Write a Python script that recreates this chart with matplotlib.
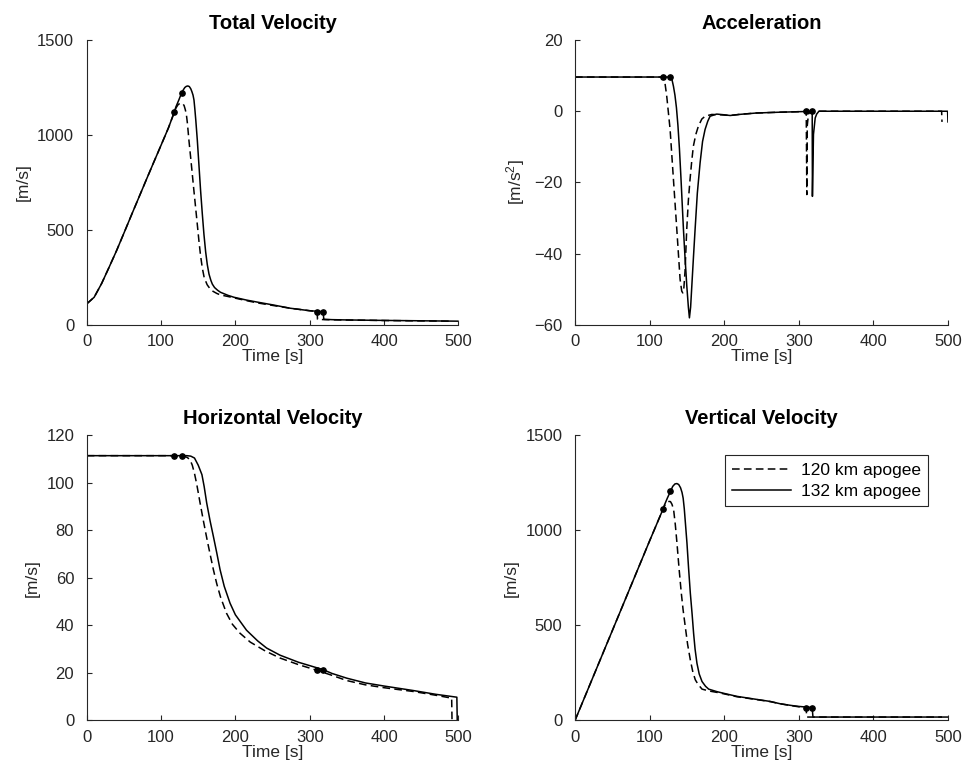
import matplotlib
matplotlib.use("Agg")
import matplotlib.pyplot as plt

plt.rcParams["font.family"] = ["Liberation Sans", "DejaVu Sans"]
plt.rcParams["mathtext.fontset"] = "custom"
plt.rcParams["mathtext.rm"] = "Liberation Sans"
plt.rcParams["mathtext.it"] = "Liberation Sans:italic"

AX_COLOR = (0.15, 0.15, 0.15)

# ---- Total velocity [m/s] ----
tot_t_120 = [0, 10, 20, 30, 40, 50, 60, 70, 80, 90, 100, 110, 118, 120, 123, 126, 129, 131,
             132.5, 134, 135.5, 137.5, 140, 142, 144, 146.5, 149, 151, 153, 155.5, 158, 162,
             166, 170, 175, 180, 190, 200, 215, 230, 250, 274, 290, 310, 310.5, 320, 350, 400,
             450, 492]
tot_v_120 = [111, 146, 218, 303, 390, 483, 577, 670, 763, 855, 946, 1038, 1122, 1142, 1160, 1168,
             1166, 1155, 1135, 1110, 1060, 972, 875, 795, 715, 618, 520, 441, 370, 300, 250, 212,
             190, 177, 166, 158, 150, 141, 128, 116, 103, 88, 80, 70, 30, 28, 26, 23.5, 21.5, 20]
tot_t_132 = [0, 10, 20, 30, 40, 50, 60, 70, 80, 90, 100, 110, 118, 120, 124, 126, 128, 130,
             132, 134, 136, 138, 140, 141.5, 143, 144.3, 145.5, 146.8, 148.8, 151, 153.2, 155.5,
             157.7, 160, 162.2, 164.5, 167, 169, 172, 176, 180, 190, 198, 215, 230, 250, 274,
             290, 300, 318, 319, 330, 350, 400, 450, 500]
tot_v_132 = [111, 146, 218, 303, 390, 483, 577, 670, 763, 855, 946, 1038, 1122, 1148, 1185, 1205,
             1222, 1238, 1250, 1256, 1258, 1255, 1243, 1228, 1210, 1184, 1135, 1075, 972, 840,
             707, 585, 477, 385, 318, 268, 235, 215, 197, 183, 172, 156, 146, 131, 120, 106, 88,
             80, 75, 70, 30, 28, 26.5, 24, 22, 20]

# ---- Acceleration [m/s^2] ----
acc_t_120 = [0, 118, 120, 123, 127.5, 132, 136.5, 140.9, 143.1, 144.5, 146, 147.5, 149.8, 152,
             154.2, 156.5, 158.7, 162, 165.4, 170, 174.4, 183.4, 195, 208, 220, 243, 270, 305,
             310, 310.8, 311.4, 313, 316, 400, 491.5, 492]
acc_a_120 = [9.6, 9.6, 8.9, 4.2, -5.1, -19.2, -33.2, -47.2, -50.5, -51, -49.5, -45, -33.2, -25,
             -19.2, -14, -9.8, -6.5, -4.2, -2.2, -1.4, -0.9, -1.0, -1.2, -0.9, -0.5, -0.3, -0.1,
             0, -23.4, -4, -0.8, 0, 0, 0, -3]
acc_t_132 = [0, 128, 130, 132, 134, 136, 138, 140, 142, 143.5, 145.4, 147.5, 149.9, 152, 153.4,
             155, 156.6, 158.8, 161, 164, 167.7, 171, 174.4, 178, 181.1, 190, 200, 208, 220, 243,
             270, 305, 318, 318.3, 319.7, 322, 324, 327, 400, 499.5, 500]
acc_a_132 = [9.6, 9.6, 8.9, 7.0, 4.5, 1.0, -4.0, -10.5, -18.5, -25, -33.2, -41, -49.1, -55, -58,
             -55, -49.1, -41, -33.2, -23, -14.5, -8.5, -5.1, -2.8, -1.4, -0.8, -1.0, -1.2, -0.9,
             -0.5, -0.3, -0.1, 0, -23.9, -6.5, -1.9, -0.8, 0, 0, 0, -3]

# ---- Horizontal velocity [m/s] ----
hor_t_120 = [0, 118, 125, 130, 135, 139, 142, 145, 148, 150, 152.5, 157, 162, 166, 170.4, 175,
             180, 188, 196, 206, 220, 240, 260, 285, 310, 330, 350, 375, 400, 439.5, 470, 491,
             491.5]
hor_v_120 = [111.5, 111.5, 111.4, 111.3, 110.8, 109.8, 107.5, 104, 99.5, 96, 91.6, 84, 76, 70,
             63.5, 57.5, 52, 45.2, 40.5, 36.8, 33, 29.3, 26.3, 23.5, 21.1, 19, 16.8, 15, 13.8,
             12.2, 10.6, 9.4, 0]
hor_t_132 = [0, 128, 135, 140, 145, 150, 155, 158, 161.4, 166, 170.4, 175, 179.4, 185, 192.8,
             200, 215, 230, 242, 260, 285, 318, 330, 350, 375, 400, 439.5, 470, 498, 498.5]
hor_v_132 = [111.5, 111.5, 111.5, 111.3, 110.5, 107.5, 103.5, 98.5, 91.6, 84, 77.5, 70.5, 63.5,
             56.5, 49.4, 44.5, 38, 33.5, 30.5, 27.5, 24.5, 21.4, 19.8, 17.8, 15.8, 14.5, 12.6,
             11, 9.8, 0]

# ---- Vertical velocity [m/s] ----
ver_t_120 = [0, 20, 40, 60, 80, 100, 118, 120, 123, 126, 128, 130, 132.2, 134.5, 136.7, 139.5,
             142.5, 145, 147.8, 151, 154.6, 158, 161.3, 165, 170.3, 180, 190, 200, 217, 240,
             262, 275, 290, 310, 310.5, 350, 400, 450, 492]
ver_v_120 = [0, 189, 378, 567, 756, 945, 1112, 1130, 1147, 1153, 1152, 1138, 1110, 1030, 934,
             800, 671, 580, 495, 400, 319, 255, 214, 190, 165, 155, 148, 140, 125, 112, 99, 88,
             78, 66, 18, 18, 18, 18, 18]
ver_t_132 = [0, 20, 40, 60, 80, 100, 118, 120, 124, 128, 131, 134, 136.6, 139, 141.5, 143.5,
             145, 146.5, 148, 150.1, 152.3, 154.6, 157, 159, 161, 163.5, 166.5, 170.3, 175,
             179.2, 190, 199.3, 217, 240, 262, 275, 290, 300, 318, 319, 350, 400, 450, 500]
ver_v_132 = [0, 189, 378, 567, 756, 945, 1112, 1135, 1172, 1206, 1232, 1245, 1247, 1242, 1225,
             1200, 1170, 1115, 1040, 934, 800, 671, 560, 459, 375, 301, 245, 205, 180, 165, 152,
             143, 127, 113, 100, 88, 79, 74, 68, 18, 18, 18, 18, 18]

# Event times (marked with dots)
events_120 = [118, 310]
events_132 = [128, 318]

panels = [
    ("Total Velocity", "[m/s]", (tot_t_120, tot_v_120), (tot_t_132, tot_v_132),
     (0, 1500), [0, 500, 1000, 1500]),
    ("Acceleration", "[m/s$^2$]", (acc_t_120, acc_a_120), (acc_t_132, acc_a_132),
     (-60, 20), [-60, -40, -20, 0, 20]),
    ("Horizontal Velocity", "[m/s]", (hor_t_120, hor_v_120), (hor_t_132, hor_v_132),
     (0, 120), [0, 20, 40, 60, 80, 100, 120]),
    ("Vertical Velocity", "[m/s]", (ver_t_120, ver_v_120), (ver_t_132, ver_v_132),
     (0, 1500), [0, 500, 1000, 1500]),
]

positions = [
    [0.0896, 0.5839, 0.3839, 0.3649],
    [0.5940, 0.5839, 0.3853, 0.3649],
    [0.0896, 0.0775, 0.3839, 0.3649],
    [0.5940, 0.0775, 0.3853, 0.3649],
]


def value_at(ts, vs, t):
    # value of the drawn series at an event time (nearest listed sample)
    i = min(range(len(ts)), key=lambda k: abs(ts[k] - t))
    return vs[i]


fig = plt.figure(figsize=(9.68, 7.81), dpi=100)
for (title, ylab, s120, s132, ylim, yticks), pos in zip(panels, positions):
    ax = fig.add_axes(pos)
    l1, = ax.plot(s120[0], s120[1], color="black", lw=1.1, ls=(0, (5.0, 2.8)),
                  label="120 km apogee")
    l2, = ax.plot(s132[0], s132[1], color="black", lw=1.1, label="132 km apogee")
    for t in events_120:
        ax.plot([t], [value_at(*s120, t)], "o", color="black", ms=3.8)
    for t in events_132:
        ax.plot([t], [value_at(*s132, t)], "o", color="black", ms=3.8)
    ax.set_xlim(0, 500)
    ax.set_ylim(*ylim)
    ax.set_xticks([0, 100, 200, 300, 400, 500])
    ax.set_yticks(yticks)
    ax.set_title(title, fontsize=14.5, fontweight="bold", color="black", pad=8)
    ax.set_xlabel("Time [s]", fontsize=12.5, color=AX_COLOR, labelpad=0)
    ax.set_ylabel(ylab, fontsize=12.5, color=AX_COLOR, labelpad=5)
    for side in ("top", "right"):
        ax.spines[side].set_visible(False)
    for side in ("left", "bottom"):
        ax.spines[side].set_color(AX_COLOR)
        ax.spines[side].set_linewidth(0.8)
    ax.tick_params(direction="in", length=3.5, width=0.8, colors=AX_COLOR,
                   labelsize=12)
    ax.tick_params(axis="x", pad=6.5)
    ax.tick_params(axis="y", pad=9)
    if title == "Vertical Velocity":
        leg = ax.legend(handles=[l1, l2], loc="upper right", fontsize=12.5,
                        frameon=True, fancybox=False, edgecolor=AX_COLOR,
                        framealpha=1, borderaxespad=1.15, handlelength=3.4,
                        handletextpad=0.55, borderpad=0.42, labelspacing=0.32)
        leg.get_frame().set_linewidth(0.8)

fig.savefig("out.png", dpi=100)
